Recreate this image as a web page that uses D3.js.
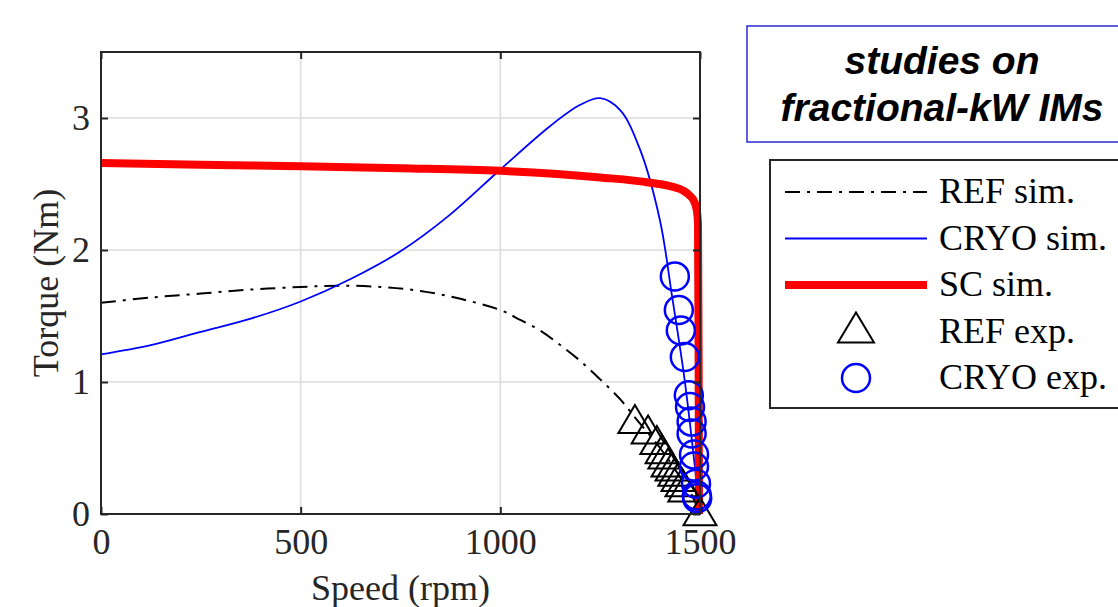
<!DOCTYPE html>
<html>
<head>
<meta charset="utf-8">
<script src="https://cdn.jsdelivr.net/npm/d3@7/dist/d3.min.js"></script>
<style>
  html, body { margin: 0; padding: 0; background: #ffffff; }
  svg { display: block; }
</style>
</head>
<body>
<svg id="chart" width="1118" height="607"></svg>
<script>
// ---------- data ----------
const speedTicks = [0, 500, 1000, 1500];
const torqueTicks = [0, 1, 2, 3];

// REF sim. (black dash-dot)
const refSimSpeed  = [0, 125, 250, 375, 500, 600, 700, 800, 900, 1000, 1050, 1100, 1150, 1200, 1250, 1300, 1340, 1400, 1450, 1480, 1500];
const refSimTorque = [1.60, 1.64, 1.67, 1.70, 1.72, 1.73, 1.72, 1.69, 1.63, 1.545, 1.47, 1.39, 1.28, 1.16, 1.02, 0.87, 0.72, 0.50, 0.28, 0.14, 0.0];

// CRYO sim. (blue)
const cryoSimSpeed  = [0, 125, 250, 375, 500, 625, 750, 875, 1000, 1125, 1200, 1250, 1300, 1350, 1400, 1430, 1460, 1480, 1500];
const cryoSimTorque = [1.21, 1.28, 1.38, 1.48, 1.61, 1.78, 1.99, 2.27, 2.61, 2.94, 3.10, 3.15, 3.06, 2.76, 2.22, 1.65, 1.05, 0.55, 0.0];

// SC sim. (thick red)
const scSimSpeed  = [0, 250, 500, 750, 1000, 1250, 1375, 1430, 1458, 1475, 1485, 1492, 1495, 1496.5, 1497.5];
const scSimTorque = [2.66, 2.645, 2.635, 2.62, 2.60, 2.55, 2.51, 2.48, 2.45, 2.41, 2.37, 2.30, 2.20, 1.20, 0.0];

// REF exp. (triangles)
const refExpSpeed  = [1337, 1370, 1392, 1405, 1412, 1420, 1430, 1437, 1445, 1455, 1462, 1500];
const refExpTorque = [0.72, 0.64, 0.56, 0.49, 0.45, 0.39, 0.36, 0.32, 0.28, 0.24, 0.20, 0.02];

// CRYO exp. (circles)
const cryoExpSpeed  = [1437, 1447, 1452, 1462, 1472, 1475, 1479, 1479, 1485, 1485, 1490, 1492, 1493];
const cryoExpTorque = [1.80, 1.545, 1.39, 1.19, 0.90, 0.81, 0.70, 0.61, 0.45, 0.36, 0.23, 0.14, 0.12];

const legendLabels = ["REF sim.", "CRYO sim.", "SC sim.", "REF exp.", "CRYO exp."];
const titleLines = ["studies on", "fractional-kW IMs"];

// ---------- drawing ----------
const svg = d3.select("#chart");
const axisColor = "#262626";
const serif = "'Liberation Serif', 'Times New Roman', serif";

const x = d3.scaleLinear().domain([0, 1500]).range([101, 700]);
const y = d3.scaleLinear().domain([0, 3.5]).range([514, 52]);

const zip = (a, b) => a.map((v, i) => [v, b[i]]);

// grid
const grid = svg.append("g");
grid.selectAll("line.gx").data(speedTicks.filter(d => d > 0 && d < 1500)).join("line")
  .attr("x1", d => x(d)).attr("x2", d => x(d)).attr("y1", y(0)).attr("y2", y(3.5))
  .attr("stroke", "#dcdcdc").attr("stroke-width", 1.6);
grid.selectAll("line.gy").data(torqueTicks.filter(d => d > 0)).join("line")
  .attr("x1", x(0)).attr("x2", x(1500)).attr("y1", d => y(d)).attr("y2", d => y(d))
  .attr("stroke", "#dcdcdc").attr("stroke-width", 1.6);

const line = d3.line().x(d => x(d[0])).y(d => y(d[1])).curve(d3.curveMonotoneX);
const smooth = d3.line().x(d => x(d[0])).y(d => y(d[1])).curve(d3.curveCatmullRom.alpha(0.5));

// REF sim.
svg.append("path").datum(zip(refSimSpeed, refSimTorque))
  .attr("d", smooth).attr("fill", "none").attr("stroke", "#000")
  .attr("stroke-width", 2).attr("stroke-dasharray", "15,7,3,7");
// CRYO sim.
svg.append("path").datum(zip(cryoSimSpeed, cryoSimTorque))
  .attr("d", smooth).attr("fill", "none").attr("stroke", "#0000ff")
  .attr("stroke-width", 1.8);
// SC sim.
svg.append("path").datum(zip(scSimSpeed, scSimTorque))
  .attr("d", line).attr("fill", "none").attr("stroke", "#ff0000")
  .attr("stroke-width", 8).attr("stroke-linejoin", "round");

// triangles
const triW = 33, triH = 28;
const triPath = (cx, cy) => `M${cx},${cy - triH / 2}L${cx + triW / 2},${cy + triH / 2}L${cx - triW / 2},${cy + triH / 2}Z`;
svg.append("g").selectAll("path").data(zip(refExpSpeed, refExpTorque)).join("path")
  .attr("d", d => triPath(x(d[0]), y(d[1])))
  .attr("fill", "none").attr("stroke", "#000").attr("stroke-width", 2);

// circles
svg.append("g").selectAll("circle").data(zip(cryoExpSpeed, cryoExpTorque)).join("circle")
  .attr("cx", d => x(d[0])).attr("cy", d => y(d[1])).attr("r", 14)
  .attr("fill", "none").attr("stroke", "#0000ff").attr("stroke-width", 2.5);

// axes
const fontSize = 36;
const ax = svg.append("g").attr("transform", `translate(0,${y(0)})`)
  .call(d3.axisBottom(x).tickValues(speedTicks).tickFormat(d3.format("d")).tickSize(-7).tickPadding(14));
const ay = svg.append("g").attr("transform", `translate(${x(0)},0)`)
  .call(d3.axisLeft(y).tickValues(torqueTicks).tickFormat(d3.format("d")).tickSize(-7).tickPadding(11));
const axTop = svg.append("g").attr("transform", `translate(0,${y(3.5)})`)
  .call(d3.axisTop(x).tickValues(speedTicks).tickSize(-7).tickFormat(""));
const ayRight = svg.append("g").attr("transform", `translate(${x(1500)},0)`)
  .call(d3.axisRight(y).tickValues(torqueTicks).tickSize(-7).tickFormat(""));
[ax, ay, axTop, ayRight].forEach(g => {
  g.select(".domain").remove();
  g.selectAll(".tick line").attr("stroke", axisColor).attr("stroke-width", 2);
  g.selectAll(".tick text").attr("fill", axisColor)
    .style("font-family", serif).style("font-size", fontSize + "px");
});
svg.append("rect").attr("x", x(0)).attr("y", y(3.5))
  .attr("width", x(1500) - x(0)).attr("height", y(0) - y(3.5))
  .attr("fill", "none").attr("stroke", axisColor).attr("stroke-width", 2);

// axis labels
svg.append("text").attr("x", (x(0) + x(1500)) / 2).attr("y", 600)
  .attr("text-anchor", "middle").attr("fill", axisColor)
  .style("font-family", serif).style("font-size", fontSize + "px")
  .text("Speed (rpm)");
svg.append("text").attr("transform", `translate(58,${(y(0) + y(3.5)) / 2}) rotate(-90)`)
  .attr("text-anchor", "middle").attr("fill", axisColor)
  .style("font-family", serif).style("font-size", fontSize + "px")
  .text("Torque (Nm)");

// title box
svg.append("rect").attr("x", 747).attr("y", 26).attr("width", 420).attr("height", 116)
  .attr("fill", "#fff").attr("stroke", "#2a2ad0").attr("stroke-width", 1.5);
svg.append("text").attr("text-anchor", "middle")
  .style("font-family", "'Liberation Sans', Arial, sans-serif")
  .style("font-size", "39px").style("font-weight", "bold").style("font-style", "italic")
  .attr("fill", "#000")
  .selectAll("tspan").data(titleLines).join("tspan")
  .attr("x", 942).attr("y", (d, i) => 74 + i * 47).text(d => d);

// legend
svg.append("rect").attr("x", 770).attr("y", 160).attr("width", 420).attr("height", 248)
  .attr("fill", "#fff").attr("stroke", axisColor).attr("stroke-width", 2);
const rows = legendLabels.map((d, i) => 192 + i * 46.5);
const lg = svg.append("g");
lg.append("line").attr("x1", 785).attr("x2", 927).attr("y1", rows[0]).attr("y2", rows[0])
  .attr("stroke", "#000").attr("stroke-width", 2).attr("stroke-dasharray", "15,7,3,7");
lg.append("line").attr("x1", 785).attr("x2", 927).attr("y1", rows[1]).attr("y2", rows[1])
  .attr("stroke", "#0000ff").attr("stroke-width", 1.8);
lg.append("line").attr("x1", 785).attr("x2", 927).attr("y1", rows[2]).attr("y2", rows[2])
  .attr("stroke", "#ff0000").attr("stroke-width", 8);
lg.append("path").attr("d", `M856,${rows[3] - 19}L874,${rows[3] + 11}L838,${rows[3] + 11}Z`)
  .attr("fill", "none").attr("stroke", "#000").attr("stroke-width", 2);
lg.append("circle").attr("cx", 856).attr("cy", rows[4]).attr("r", 14)
  .attr("fill", "none").attr("stroke", "#0000ff").attr("stroke-width", 2.5);
lg.selectAll("text").data(legendLabels).join("text")
  .attr("x", 939).attr("y", (d, i) => rows[i] + 11)
  .attr("fill", "#000")
  .style("font-family", serif).style("font-size", fontSize + "px")
  .text(d => d);
</script>
</body>
</html>
